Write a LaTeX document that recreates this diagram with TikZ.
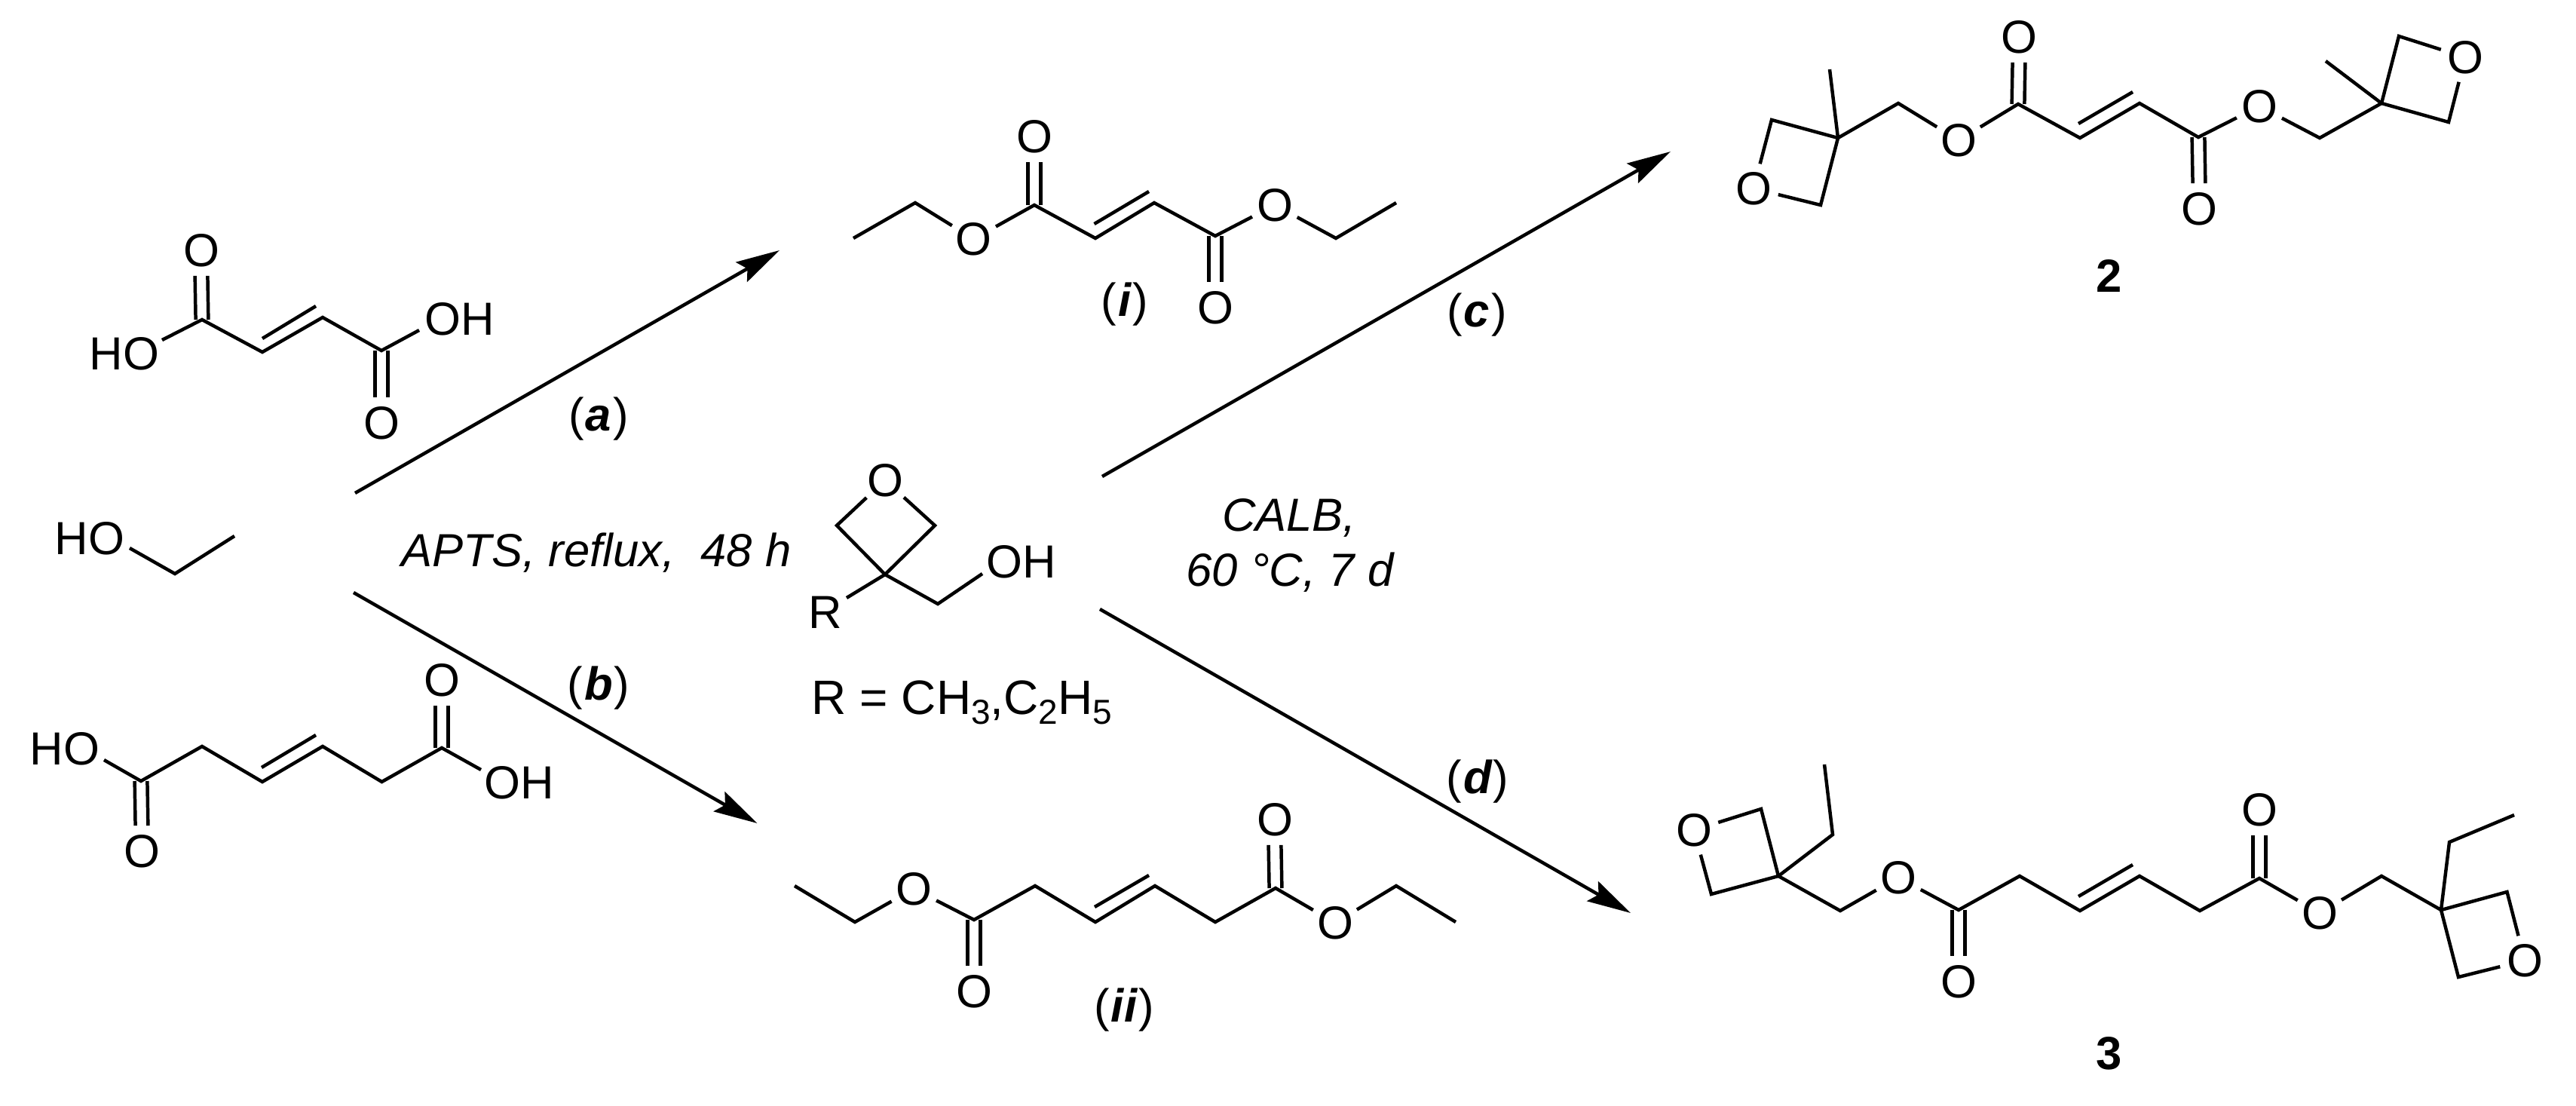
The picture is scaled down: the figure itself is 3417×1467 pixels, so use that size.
\documentclass[tikz,border=0pt]{standalone}
\usepackage{fontspec}
\setmainfont{Liberation Sans}
\usetikzlibrary{arrows.meta}
\tikzset{
  x=0.25pt,y=-0.25pt,
  bond/.style={line width=1.12pt,black},
  rxn/.style={line width=1.12pt,black,-{Stealth[length=14.5pt,width=7.5pt,inset=2.25pt]}},
  atom/.style={circle,inner sep=0pt,minimum size=16.5pt,font=\fontsize{15.4}{18}\selectfont},
  txt/.style={inner sep=0pt,font=\fontsize{15.4}{18}\selectfont},
  lab/.style={inner sep=0pt,anchor=base,font=\fontsize{15.4}{18}\selectfont}
}
\newcommand\cbond[3]{%
  \draw[bond] ([xshift=-2.1pt]#1) -- ([xshift=-2.1pt]#2.#3);
  \draw[bond] ([xshift=2.1pt]#1) -- ([xshift=2.1pt]#2.#3);}
\newcommand\subn[1]{\raisebox{-3.3pt}{\fontsize{11.5}{13}\selectfont #1}}
\newcommand\bi[1]{(\kern0.5pt{\bfseries\itshape #1}\kern0.5pt)}
\begin{document}
\begin{tikzpicture}
\useasboundingbox (0,0) rectangle (3417,1467);
\foreach \n/\x/\y in {
 f1/268/424,f2/348/467,f3/428/421,f4/506/465,fhe/215/451,foe/556/438,fa/348/449,fb/419/406,
 e1/172/727,e2/232/761,e3/311/711,
 h1/187/1036,h2/268/990,h3/348/1037,h4/428/990,h5/506.5/1037,h6/586/992,hhe/138/1008,hoe/638/1021,ha/347/1018,hb/419/975,
 as/471/654,at/1034/332,bs/469/786,bt/1004.5/1092,cs/1462/632,ct/2216/201,ds/1459/808,dt/2163/1211,
 i1/1132/316,i2/1214/269,i3/1372/272,i4/1453/316,i5/1531/269,i6/1612/313,i7/1772/316,i8/1852/269,ia/1451.5/297,ib/1524/254,
 x1/1110/697,x2/1174/762,x3/1240/697,xre/1123/793,x4/1244/801,xoe/1303/761,
 j1/1054/1175,j2/1134/1223,j3/1292/1220,j4/1373/1175,j5/1453/1223,j6/1532/1175,j7/1612/1223,j8/1692/1178,j9/1852/1175,j10/1931/1223,ja/1452/1203,jb/1524/1161,
 p1/2427/92,p2/2438/183,p3/2350/159,p4/2415/272,p5/2518/137,p6/2677/138,p7/2759/183,p8/2838/137,p9/2916/182,p10/3077/183,p11/3159/137,p12/3085/81,p13/3182/48,p14/3248/162,pa/2757/164,pb/2829/122,
 q1/2420/1014,q2/2431/1107,q3/2359/1162,q4/2336/1073,q5/2270/1186,q6/2441/1208,q7/2598/1207,q8/2679/1162,q9/2759/1208,q10/2838/1162,q11/2918/1208,q12/2997/1165,q13/3159/1162,q14/3238/1207,q15/3249/1117,q16/3335/1081,q17/3325.5/1183,q18/3261/1296,qa/2757/1189,qb/2829/1147}
 {\coordinate (\n) at (\x,\y);}
% fumaric acid
\node[atom] (fO1) at (267,332) {O};
\node[atom] (fO2) at (506,561) {O};
\node[txt] (fHO) at (165,469) {HO};
\node[txt] (fOH) at (610,423) {OH};
\draw[bond] (fhe) -- (f1) -- (f2) -- (f3) -- (f4) -- (foe);
\draw[bond] (fa) -- (fb);
\cbond{f1}{fO1}{south}
\cbond{f4}{fO2}{north}
% ethanol
\node[txt] (eHO) at (119,714) {HO};
\draw[bond] (e1) -- (e2) -- (e3);
% hexenedioic acid
\node[atom] (hO1) at (188,1129) {O};
\node[atom] (hO2) at (586,902) {O};
\node[txt] (hHO) at (86,993) {HO};
\node[txt] (hOH) at (689,1038) {OH};
\draw[bond] (hhe) -- (h1) -- (h2) -- (h3) -- (h4) -- (h5) -- (h6) -- (hoe);
\draw[bond] (ha) -- (hb);
\cbond{h1}{hO1}{north}
\cbond{h6}{hO2}{south}
% arrows
\draw[rxn] (as) -- (at);
\draw[rxn] (bs) -- (bt);
\draw[rxn] (cs) -- (ct);
\draw[rxn] (ds) -- (dt);
% labels
\node[lab] (la) at (794,571) {\bi{a}};
\node[lab] (lb) at (794,928) {\bi{b}};
\node[lab] (lc) at (1959,433) {\bi{c}};
\node[lab] (ld) at (1960,1052) {\bi{d}};
\node[lab] (li) at (1492,419) {\bi{i}};
\node[lab] (lii) at (1491,1355) {\bi{ii}};
\node[lab] (l2) at (2798,387) {\bfseries 2};
\node[lab] (l3) at (2798,1418) {\bfseries 3};
\node[lab] (apts) at (791,751) {\itshape APTS, reflux,\ \ 48 h};
\node[lab] (calb) at (1710,704) {\itshape CALB,};
\node[lab] (temp) at (1711,777) {\itshape 60 °C, 7 d};
\node[lab,anchor=base west,font=\fontsize{16}{18}\selectfont] (rdef) at (1076,947) {R = CH\subn{3},C\subn{2}H\subn{5}};
% diethyl fumarate
\node[atom] (iO1) at (1291.5,317) {O};
\node[atom] (iO2) at (1372,181) {O};
\node[atom] (iO3) at (1612,408) {O};
\node[atom] (iO4) at (1691,272) {O};
\draw[bond] (i1) -- (i2) -- (iO1);
\draw[bond] (iO1) -- (i3) -- (i4) -- (i5) -- (i6) -- (iO4);
\draw[bond] (iO4) -- (i7) -- (i8);
\draw[bond] (ia) -- (ib);
\cbond{i3}{iO2}{south}
\cbond{i6}{iO3}{north}
% oxetane alcohol
\node[atom] (xO) at (1174,637) {O};
\node[txt] (xR) at (1095,812) {R};
\node[txt] (xOH) at (1355,745) {OH};
\draw[bond] (xO) -- (x1) -- (x2) -- (x3) -- (xO);
\draw[bond] (xre) -- (x2) -- (x4) -- (xoe);
% diethyl hexenedioate
\node[atom] (jO1) at (1212,1179) {O};
\node[atom] (jO2) at (1292,1315) {O};
\node[atom] (jO3) at (1691,1087) {O};
\node[atom] (jO4) at (1771,1224) {O};
\draw[bond] (j1) -- (j2) -- (jO1);
\draw[bond] (jO1) -- (j3) -- (j4) -- (j5) -- (j6) -- (j7) -- (j8) -- (jO4);
\draw[bond] (jO4) -- (j9) -- (j10);
\draw[bond] (ja) -- (jb);
\cbond{j3}{jO2}{north}
\cbond{j8}{jO3}{south}
% compound 2
\node[atom] (pO1) at (2326,250) {O};
\node[atom] (pO2) at (2598,186) {O};
\node[atom] (pO3) at (2678,49) {O};
\node[atom] (pO4) at (2917,277) {O};
\node[atom] (pO5) at (2997,141) {O};
\node[atom] (pO6) at (3270,76) {O};
\draw[bond] (p1) -- (p2);
\draw[bond] (pO1) -- (p3) -- (p2) -- (p4) -- (pO1);
\draw[bond] (p2) -- (p5) -- (pO2);
\draw[bond] (pO2) -- (p6) -- (p7) -- (p8) -- (p9) -- (pO5);
\draw[bond] (pO5) -- (p10) -- (p11) -- (p12);
\draw[bond] (pO6) -- (p13) -- (p11) -- (p14) -- (pO6);
\draw[bond] (pa) -- (pb);
\cbond{p6}{pO3}{south}
\cbond{p9}{pO4}{north}
% compound 3
\node[atom] (qO1) at (2247,1101) {O};
\node[atom] (qO2) at (2518,1164) {O};
\node[atom] (qO3) at (2598,1302) {O};
\node[atom] (qO4) at (2997,1074) {O};
\node[atom] (qO5) at (3077,1211) {O};
\node[atom] (qO6) at (3349,1274) {O};
\draw[bond] (q1) -- (q2) -- (q3);
\draw[bond] (qO1) -- (q4) -- (q3) -- (q5) -- (qO1);
\draw[bond] (q3) -- (q6) -- (qO2);
\draw[bond] (qO2) -- (q7) -- (q8) -- (q9) -- (q10) -- (q11) -- (q12) -- (qO5);
\draw[bond] (qO5) -- (q13) -- (q14) -- (q15) -- (q16);
\draw[bond] (qO6) -- (q17) -- (q14) -- (q18) -- (qO6);
\draw[bond] (qa) -- (qb);
\cbond{q7}{qO3}{north}
\cbond{q12}{qO4}{south}
\end{tikzpicture}
\end{document}
